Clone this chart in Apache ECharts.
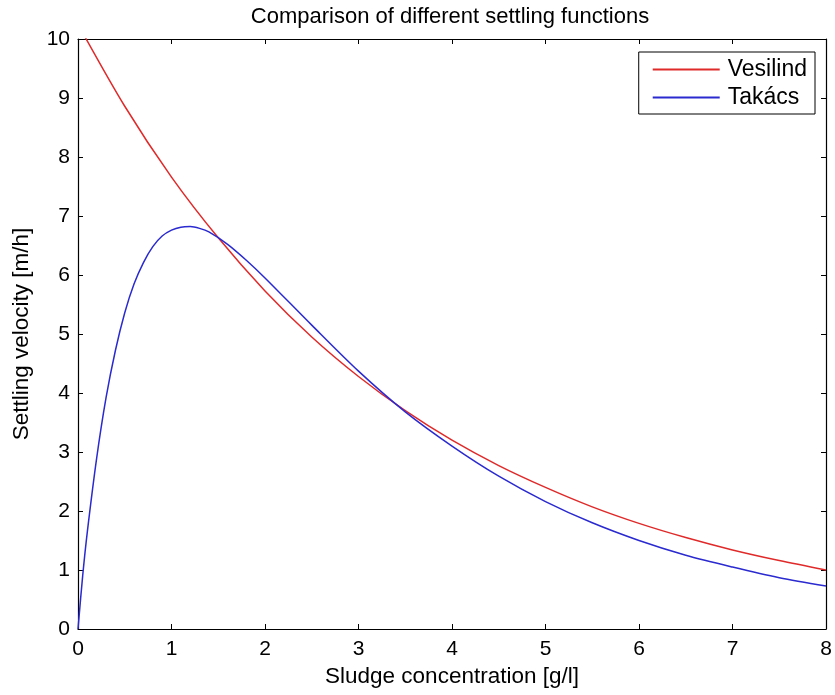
<!DOCTYPE html>
<html>
<head>
<meta charset="utf-8">
<script src="https://cdn.jsdelivr.net/npm/echarts@6/dist/echarts.min.js"></script>
<style>html,body{margin:0;padding:0;background:#fff}#c{width:835px;height:695px}</style>
</head>
<body>
<div id="c"></div>
<script>
var titleText = 'Comparison of different settling functions';
var xName = 'Sludge concentration [g/l]';
var yName = 'Settling velocity [m/h]';
var seriesNames = ['Vesilind', 'Takács'];

var vesX = [0, 0.5, 1, 1.5, 2, 2.5, 3, 3.5, 4, 4.5, 5, 5.5, 6, 6.5, 7, 7.5, 8];
var vesY = [10.25, 8.86, 7.66, 6.63, 5.73, 4.95, 4.28, 3.70, 3.20, 2.77, 2.40, 2.07, 1.79, 1.55, 1.34, 1.16, 1.00];

var takX = [0, 0.05, 0.1, 0.2, 0.3, 0.4, 0.5, 0.6, 0.7, 0.8, 0.9, 1.0, 1.1, 1.2, 1.3, 1.4, 1.6, 1.8, 2.0, 2.5, 3, 3.5, 4, 4.5, 5, 5.5, 6, 6.5, 7, 7.5, 8];
var takY = [0, 0.9, 1.65, 2.9, 3.92, 4.72, 5.36, 5.85, 6.21, 6.48, 6.66, 6.76, 6.81, 6.82, 6.79, 6.73, 6.52, 6.25, 5.95, 5.15, 4.37, 3.68, 3.10, 2.59, 2.16, 1.80, 1.50, 1.25, 1.05, 0.87, 0.73];

var xTicks = [0, 1, 2, 3, 4, 5, 6, 7, 8];
var yTicks = [0, 1, 2, 3, 4, 5, 6, 7, 8, 9, 10];

function pairs(xs, ys) { return xs.map(function (x, i) { return [x, ys[i]]; }); }

var font = 'Liberation Sans, Arial, Helvetica, sans-serif';
var chart = echarts.init(document.getElementById('c'), null, {renderer: 'canvas'});
var axisCommon = {
  type: 'value',
  splitLine: {show: false},
  axisLine: {show: true, onZero: false, lineStyle: {color: '#000', width: 1.2}},
  axisTick: {show: true, inside: true, length: 5, lineStyle: {color: '#000', width: 1}}
};
chart.setOption({
  animation: false,
  backgroundColor: '#fff',
  title: {
    text: titleText, left: 445, top: 1, textAlign: 'center',
    textStyle: {fontFamily: font, fontSize: 22, fontWeight: 'normal', color: '#000'}
  },
  legend: {
    orient: 'vertical', right: 20, top: 52,
    backgroundColor: '#fff',
    borderColor: '#000', borderWidth: 1,
    padding: [6, 8, 5, 14],
    itemGap: 5, itemWidth: 67, itemHeight: 2,
    icon: 'rect',
    textStyle: {fontFamily: font, fontSize: 23, color: '#000', padding: [0, 0, 0, 3]},
    data: seriesNames
  },
  grid: {left: 78, right: 9, top: 39, bottom: 66, containLabel: false},
  xAxis: [
    Object.assign({}, axisCommon, {
      min: 0, max: 8, interval: 1, position: 'bottom',
      name: xName, nameLocation: 'middle', nameGap: 29,
      nameTextStyle: {fontFamily: font, fontSize: 22.5, color: '#000'},
      axisLabel: {fontFamily: font, fontSize: 21, color: '#000', margin: 10,
        formatter: function (v) { return xTicks.indexOf(v) >= 0 ? String(v) : ''; }}
    }),
    Object.assign({}, axisCommon, {
      min: 0, max: 8, interval: 1, position: 'top', axisLabel: {show: false}
    })
  ],
  yAxis: [
    Object.assign({}, axisCommon, {
      min: 0, max: 10, interval: 1, position: 'left',
      name: yName, nameLocation: 'middle', nameGap: 45, nameRotate: 90,
      nameTextStyle: {fontFamily: font, fontSize: 22.5, color: '#000'},
      axisLabel: {fontFamily: font, fontSize: 21, color: '#000', margin: 8,
        formatter: function (v) { return yTicks.indexOf(v) >= 0 ? String(v) : ''; }}
    }),
    Object.assign({}, axisCommon, {
      min: 0, max: 10, interval: 1, position: 'right', axisLabel: {show: false}
    })
  ],
  series: [
    {
      name: seriesNames[0], type: 'line', data: pairs(vesX, vesY),
      showSymbol: false, symbol: 'none', smooth: 0.3, clip: true,
      lineStyle: {color: '#e02a2a', width: 1.5}, itemStyle: {color: '#e02a2a'}
    },
    {
      name: seriesNames[1], type: 'line', data: pairs(takX, takY),
      showSymbol: false, symbol: 'none', smooth: 0.3, clip: true,
      lineStyle: {color: '#2a2ad0', width: 1.5}, itemStyle: {color: '#2a2ad0'}
    }
  ]
});
</script>
</body>
</html>
